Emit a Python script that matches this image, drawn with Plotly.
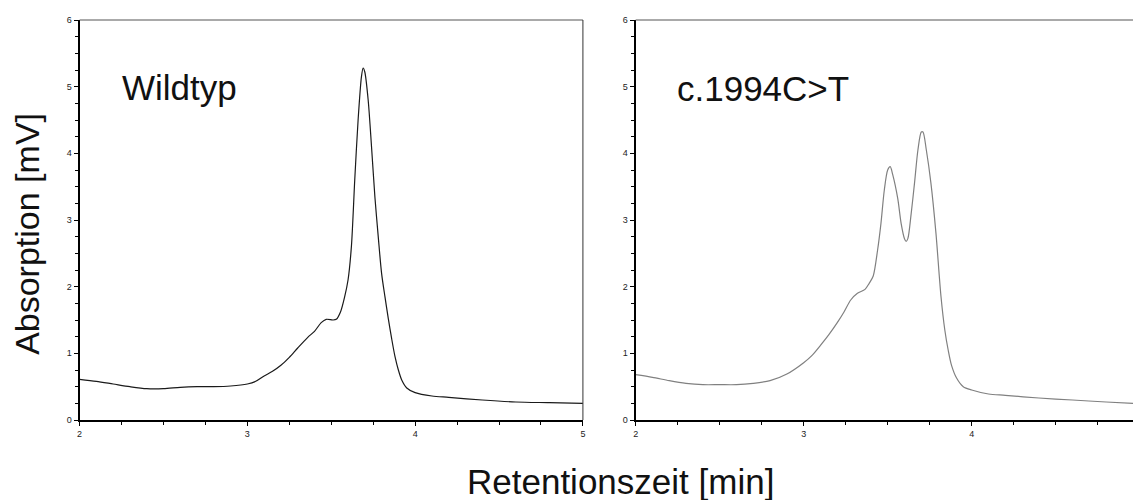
import plotly.graph_objects as go

# Wildtyp chromatogram
wt_x = [2.00, 2.10, 2.20, 2.30, 2.40, 2.50, 2.60, 2.70, 2.80, 2.90, 3.00, 3.05, 3.10, 3.15, 3.20,
        3.25, 3.30, 3.36, 3.40, 3.44, 3.47, 3.51, 3.53, 3.555, 3.58, 3.60, 3.62, 3.64, 3.66, 3.68,
        3.69, 3.70, 3.72, 3.74, 3.76, 3.78, 3.80, 3.82, 3.84, 3.86, 3.88, 3.90, 3.92, 3.95, 4.00,
        4.10, 4.20, 4.40, 4.60, 4.80, 5.00]
wt_y = [0.61, 0.58, 0.54, 0.50, 0.47, 0.47, 0.49, 0.50, 0.50, 0.51, 0.54, 0.58, 0.66, 0.73, 0.82,
        0.94, 1.08, 1.24, 1.33, 1.46, 1.51, 1.50, 1.51, 1.62, 1.85, 2.10, 2.60, 3.60, 4.50, 5.15,
        5.28, 5.22, 4.80, 4.10, 3.35, 2.75, 2.20, 1.85, 1.52, 1.22, 0.95, 0.75, 0.60, 0.48, 0.41,
        0.36, 0.34, 0.30, 0.27, 0.26, 0.25]

# c.1994C>T chromatogram
mt_x = [2.00, 2.10, 2.20, 2.30, 2.40, 2.50, 2.60, 2.70, 2.80, 2.90, 3.00, 3.05, 3.10, 3.15, 3.20,
        3.24, 3.28, 3.32, 3.365, 3.39, 3.414, 3.44, 3.46, 3.48, 3.50, 3.515, 3.53, 3.56, 3.58, 3.60,
        3.61, 3.62, 3.64, 3.66, 3.68, 3.70, 3.71, 3.73, 3.757, 3.787, 3.817, 3.84, 3.86, 3.88, 3.91,
        3.95, 4.00, 4.10, 4.20, 4.40, 4.60, 4.80, 4.96]
mt_y = [0.68, 0.64, 0.59, 0.55, 0.53, 0.53, 0.53, 0.55, 0.59, 0.69, 0.86, 0.97, 1.12, 1.28, 1.46,
        1.62, 1.80, 1.90, 1.96, 2.05, 2.16, 2.55, 2.95, 3.45, 3.75, 3.80, 3.68, 3.32, 2.95, 2.72,
        2.68, 2.72, 3.10, 3.56, 4.05, 4.32, 4.32, 4.05, 3.56, 2.81, 1.86, 1.35, 1.05, 0.82, 0.63,
        0.50, 0.45, 0.39, 0.37, 0.33, 0.30, 0.27, 0.25]

x_ticks = [2, 3, 4, 5]
y_ticks = [0, 1, 2, 3, 4, 5, 6]

W, H = 1136, 500
FONT = "Arial, Liberation Sans, sans-serif"

fig = go.Figure()
fig.add_trace(go.Scatter(x=wt_x, y=wt_y, mode="lines", xaxis="x", yaxis="y",
                         line=dict(color="#1a1a1a", width=1.2, shape="spline", smoothing=0.8),
                         showlegend=False, hoverinfo="skip"))
fig.add_trace(go.Scatter(x=mt_x, y=mt_y, mode="lines", xaxis="x2", yaxis="y2",
                         line=dict(color="#808080", width=1.2, shape="spline", smoothing=0.8),
                         showlegend=False, hoverinfo="skip"))

axis_common = dict(showgrid=False, zeroline=False, showline=True, linecolor="black", linewidth=2,
                   ticks="outside", ticklen=4, tickwidth=1, tickcolor="black",
                   tickfont=dict(family=FONT, size=9, color="#222"),
                   minor=dict(ticks="outside", ticklen=3, tickcolor="black", dtick=0.25, showgrid=False))

d1 = [77 / W, 583 / W]
d2 = [636 / W, 1.0]
ydom = [0, 1]

fig.update_layout(
    width=W, height=H,
    margin=dict(l=0, r=0, t=20, b=80),
    paper_bgcolor="white", plot_bgcolor="white",
    xaxis=dict(domain=d1, range=[2, 5], tickvals=x_ticks, anchor="y", **axis_common),
    yaxis=dict(domain=ydom, range=[0, 6], tickvals=y_ticks, anchor="x", **axis_common),
    xaxis2=dict(domain=d2, range=[2, 4.96], tickvals=x_ticks, anchor="y2", **axis_common),
    yaxis2=dict(domain=ydom, range=[0, 6], tickvals=y_ticks, anchor="x2", **axis_common),
)

# top / right frame lines
fig.add_shape(type="line", xref="x domain", yref="y domain", x0=0, x1=1, y0=1, y1=1,
              line=dict(color="#555", width=1))
fig.add_shape(type="line", xref="x domain", yref="y domain", x0=1, x1=1, y0=0, y1=1,
              line=dict(color="#333", width=1))
fig.add_shape(type="line", xref="x2 domain", yref="y2 domain", x0=0, x1=1, y0=1, y1=1,
              line=dict(color="#555", width=1))

def py(pix):
    return 1 - (pix - 20) / 400

fig.add_annotation(text="Wildtyp", xref="paper", yref="paper", x=118 / W, y=py(87), xanchor="left",
                   yanchor="middle", showarrow=False, font=dict(family=FONT, size=35, color="#111"))
fig.add_annotation(text="c.1994C>T", xref="paper", yref="paper", x=676 / W, y=py(88), xanchor="left",
                   yanchor="middle", showarrow=False, font=dict(family=FONT, size=35, color="#111"))

fig.add_annotation(text="Absorption [mV]", xref="paper", yref="paper", x=24 / W, y=py(234),
                   xanchor="center", yanchor="middle", textangle=-90, showarrow=False,
                   font=dict(family=FONT, size=34, color="#111"))
fig.add_annotation(text="Retentionszeit [min]", xref="paper", yref="paper", x=621 / W, y=py(481),
                   xanchor="center", yanchor="middle", showarrow=False,
                   font=dict(family=FONT, size=35, color="#111"))

fig.write_html("out.html")
